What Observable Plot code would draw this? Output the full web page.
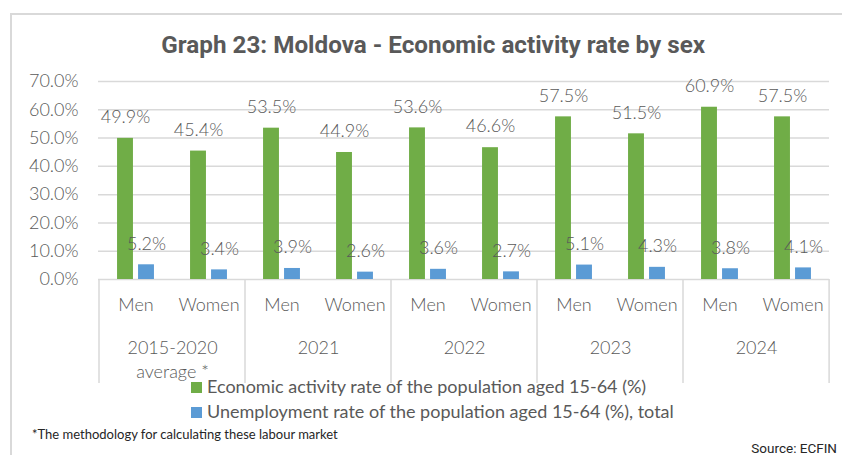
<!DOCTYPE html>
<html>
<head>
<meta charset="utf-8">
<script src="https://cdn.jsdelivr.net/npm/d3@7"></script>
<script src="https://cdn.jsdelivr.net/npm/@observablehq/plot@0.6"></script>
<style>
  html, body { margin: 0; padding: 0; background: #fff; }
  #wrap { position: relative; width: 842px; height: 455px; overflow: hidden; font-family: Lato, sans-serif; color: #595959; }
  #frame { position: absolute; left: 10px; top: 13px; width: 850px; height: 460px; border: 2px solid #d9d9d9; box-sizing: border-box; }
  #title { position: absolute; left: 0; width: 866px; top: 30px; text-align: center; font-family: Roboto, sans-serif; font-weight: 700; font-size: 24px; line-height: 30px; color: #595959; }
  #title span { display: inline-block; transform: scaleX(1.01); }
  #chart { position: absolute; left: 0; top: 60px; }
  .leg { position: absolute; left: 191px; font-size: 18px; line-height: 22px; white-space: nowrap; font-weight: 400; }
  .leg i { display: inline-block; width: 11px; height: 11px; margin-right: 5px; vertical-align: 0px; }
  #foot { position: absolute; left: 32px; top: 426px; font-size: 13px; white-space: nowrap; color: #262626; }
  #src { position: absolute; right: 5px; top: 440px; font-family: Roboto, sans-serif; font-size: 13.5px; color: #262626; }
</style>
</head>
<body>
<div id="wrap">
  <div id="frame"></div>
  <div id="title"><span>Graph 23: Moldova - Economic activity rate by sex</span></div>
  <div id="chart"></div>
  <div class="leg" id="leg1" style="top:375px"></div>
  <div class="leg" id="leg2" style="top:400px"></div>
  <div id="foot">*The methodology for calculating these labour market</div>
  <div id="src">Source: ECFIN</div>
</div>
<script>
const years = ["2015-2020", "2021", "2022", "2023", "2024"];
const yearLabels = ["2015-2020\naverage *", "2021", "2022", "2023", "2024"];
const sexes = ["Men", "Women"];
const seriesNames = [
  "Economic activity rate of the population aged 15-64 (%)",
  "Unemployment rate of the population aged 15-64 (%), total"
];
const seriesColors = ["#70ad47", "#5b9bd5"];
// values per year: [Men, Women]
const activityRate = [[49.9, 45.4], [53.5, 44.9], [53.6, 46.6], [57.5, 51.5], [60.9, 57.5]];
const unemploymentRate = [[5.2, 3.4], [3.9, 2.6], [3.6, 2.7], [5.1, 4.3], [3.8, 4.1]];
const yTicks = [0, 10, 20, 30, 40, 50, 60, 70];

const keys = [];
years.forEach(y => sexes.forEach(s => keys.push(y + "|" + s)));
const act = [], une = [];
years.forEach((y, i) => sexes.forEach((s, j) => {
  act.push({key: y + "|" + s, sex: s, value: activityRate[i][j]});
  une.push({key: y + "|" + s, sex: s, value: unemploymentRate[i][j]});
}));
const yearRows = years.map((y, i) => ({key: y + "|Men", label: yearLabels[i]}));

const W = 842, mL = 98, mR = 13;
const bw = (W - mL - mR) / keys.length;
const barW = 16, gap = 5;
const inOuter = bw / 2 - gap / 2 - barW;
const inInner = bw / 2 + gap / 2;
const off = gap / 2 + barW / 2;
const fmt = d => d.toFixed(1) + "%";
const txtFont = {fontFamily: "Lato, sans-serif", fontSize: 18, fontWeight: 300, fill: "#595959"};

const plot = Plot.plot({
  width: W, height: 330,
  marginLeft: mL, marginRight: mR, marginTop: 21, marginBottom: 111,
  style: {fontFamily: "Lato, sans-serif", fontSize: "18px", fontWeight: 300, color: "#595959", background: "transparent", overflow: "visible"},
  x: {domain: keys, padding: 0, axis: null},
  y: {domain: [0, 70], ticks: yTicks, tickFormat: fmt, tickSize: 0, tickPadding: 20, label: null},
  marks: [
    Plot.gridY(yTicks.slice(1), {stroke: "#d9d9d9", strokeOpacity: 1, strokeWidth: 1.5}),
    Plot.ruleY([0], {stroke: "#d9d9d9", strokeWidth: 1.5}),
    Plot.barY(act, {x: "key", y: "value", fill: seriesColors[0], insetLeft: inOuter, insetRight: inInner}),
    Plot.barY(une, {x: "key", y: "value", fill: seriesColors[1], insetLeft: inInner, insetRight: inOuter}),
    Plot.text(act, {x: "key", y: "value", text: d => fmt(d.value), dx: -off, dy: -21, ...txtFont}),
    Plot.text(une, {x: "key", y: "value", text: d => fmt(d.value), dx: off, dy: -21, ...txtFont}),
    Plot.text(act, {x: "key", text: "sex", frameAnchor: "bottom", dy: 31, ...txtFont}),
    Plot.text(yearRows, {x: "key", text: "label", frameAnchor: "bottom", dx: bw / 2, dy: 58, lineAnchor: "top", lineHeight: 1.3, ...txtFont})
  ]
});
document.getElementById("chart").appendChild(plot);

// category separators drawn with the plot's own x scale
const xs = plot.scale("x");
const svg = d3.select(plot);
const bounds = years.map(y => xs.apply(y + "|Men")).concat([xs.apply(years[years.length - 1] + "|Women") + bw]);
svg.append("g").selectAll("line").data(bounds).join("line")
  .attr("x1", d => d).attr("x2", d => d)
  .attr("y1", 330 - 111).attr("y2", 330 - 111 + 104)
  .attr("stroke", "#d9d9d9").attr("stroke-width", 1.5);

[["leg1", 0], ["leg2", 1]].forEach(([id, i]) => {
  document.getElementById(id).innerHTML = `<i style="background:${seriesColors[i]}"></i>${seriesNames[i]}`;
});
</script>
</body>
</html>
